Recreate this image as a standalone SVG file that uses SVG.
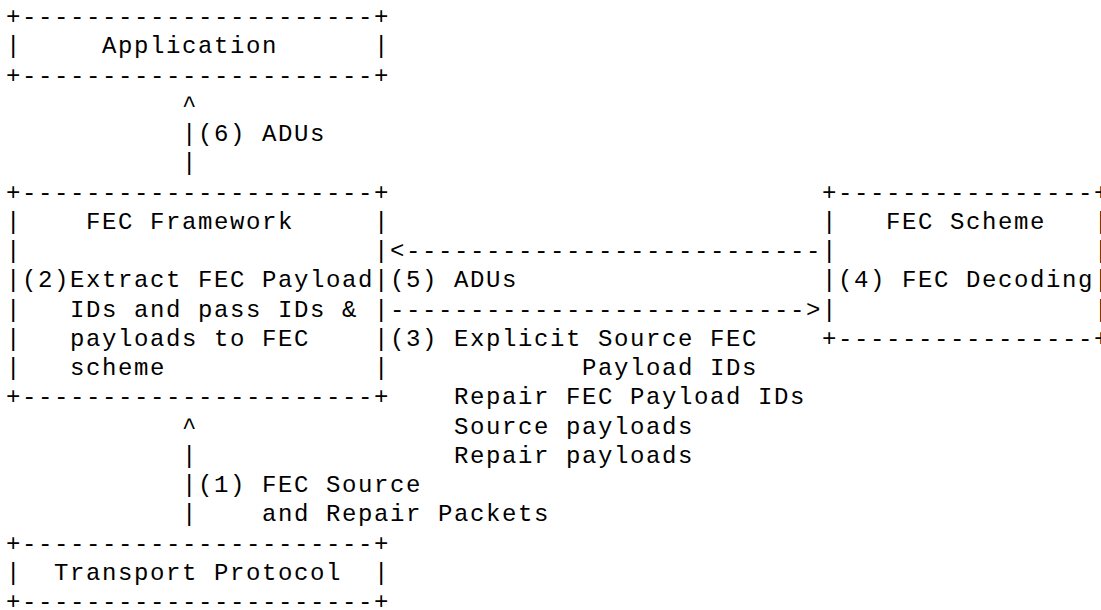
<svg xmlns="http://www.w3.org/2000/svg" width="1101" height="610" viewBox="0 0 1101 610" xml:space="preserve">
<style>
text{font-family:"Liberation Mono","Courier New",monospace;font-size:24px;letter-spacing:1.6px;fill:#000;white-space:pre}
</style>
<rect width="1101" height="610" fill="#fff"/>
<g id="node-application">
<text x="6" y="24">+----------------------+</text>
<text x="6" y="53.25">|     Application      |</text>
<text x="6" y="82.5">+----------------------+</text>
</g>
<g id="node-fec-framework">
<text x="6" y="199.5">+----------------------+</text>
<text x="6" y="228.75">|    FEC Framework     |</text>
<text x="6" y="258">|                      |</text>
<text x="6" y="287.25">|(2)Extract FEC Payload|</text>
<text x="6" y="316.5">|   IDs and pass IDs &amp; |</text>
<text x="6" y="345.75">|   payloads to FEC    |</text>
<text x="6" y="375">|   scheme             |</text>
<text x="6" y="404.25">+----------------------+</text>
</g>
<g id="node-fec-scheme">
<text x="822" y="199.5">+----------------+</text>
<text x="822" y="228.75">|   FEC Scheme   |</text>
<text x="822" y="258">|                |</text>
<text x="822" y="287.25">|(4) FEC Decoding|</text>
<text x="822" y="316.5">|                |</text>
<text x="822" y="345.75">+----------------+</text>
</g>
<g id="node-transport-protocol">
<text x="6" y="550.5">+----------------------+</text>
<text x="6" y="579.75">|  Transport Protocol  |</text>
<text x="6" y="609">+----------------------+</text>
</g>
<g id="connectors">
<text x="182" y="111.75">^</text>
<text x="182" y="141">|</text>
<text x="182" y="170.25">|</text>
<text x="390" y="258">&lt;--------------------------</text>
<text x="390" y="316.5">--------------------------&gt;</text>
<text x="182" y="433.5">^</text>
<text x="182" y="462.75">|</text>
<text x="182" y="492">|</text>
<text x="182" y="521.25">|</text>
</g>
<g id="labels">
<text x="198" y="141">(6) ADUs</text>
<text x="390" y="287.25">(5) ADUs</text>
<text x="390" y="345.75">(3) Explicit Source FEC</text>
<text x="582" y="375">Payload IDs</text>
<text x="454" y="404.25">Repair FEC Payload IDs</text>
<text x="454" y="433.5">Source payloads</text>
<text x="454" y="462.75">Repair payloads</text>
<text x="198" y="492">(1) FEC Source</text>
<text x="262" y="521.25">and Repair Packets</text>
</g>
</svg>
